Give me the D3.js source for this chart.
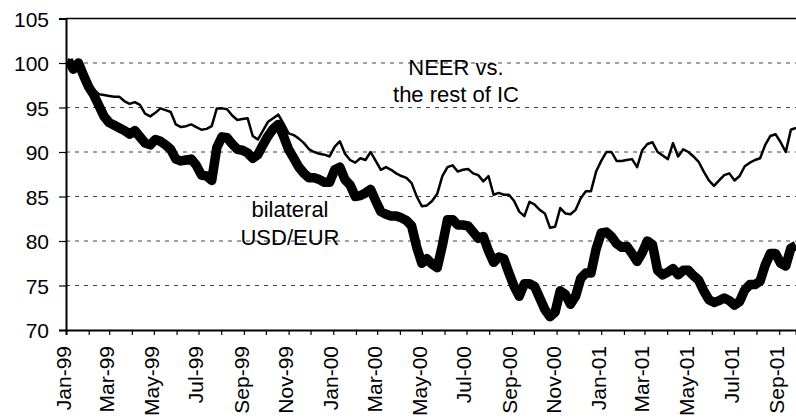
<!DOCTYPE html>
<html>
<head>
	<meta charset="utf-8">
	<script src="https://cdn.jsdelivr.net/npm/d3@7"></script>
	<style>
		body { margin: 0; background: #fff; }
		text { font-family: "Liberation Sans", Arial, sans-serif; fill: #000; }
	</style>
</head>
<body>
	<div id="chart"></div>

	<script>
		// weekly readings, first week starting Mon 4 Jan 1999
		var firstWeek = "1999-01-04";

		// nominal effective rate vs the rest of industrial countries (thin line)
		var neer = [
			100.5, 99.6, 99.8, 98.2, 97.4, 97.0, 96.5, 96.4, 96.3, 96.2,
			96.2, 95.7, 95.4, 95.6, 95.3, 94.3, 94.0, 94.4, 94.9, 94.7,
			94.5, 93.1, 92.8, 92.9, 93.1, 92.8, 92.5, 92.6, 92.9, 94.9,
			94.9, 94.8, 94.1, 93.6, 93.7, 93.8, 91.8, 91.4, 92.4, 93.4,
			93.8, 94.2, 93.2, 92.1, 91.9, 91.5, 91.0, 90.3, 90.0, 89.8,
			89.7, 89.5, 90.6, 91.2, 89.8, 89.1, 88.8, 89.3, 89.1, 90.0,
			89.0, 88.0, 88.3, 88.0, 87.6, 87.3, 87.1, 86.5, 85.0, 83.9,
			84.0, 84.5, 85.3, 87.3, 88.3, 88.5, 87.8, 88.0, 88.1, 87.6,
			87.4, 86.7, 87.3, 85.2, 85.4, 85.2, 85.2, 84.5, 83.3, 82.8,
			84.4, 84.1, 83.5, 83.1, 81.5, 81.6, 83.7, 83.1, 83.0, 83.5,
			84.8, 85.6, 85.6, 87.8, 89.0, 90.0, 90.0, 89.0, 89.0, 89.1,
			89.2, 88.3, 90.2, 90.9, 91.1, 90.0, 89.6, 89.2, 91.0, 89.5,
			90.3, 90.0, 89.5, 88.9, 87.8, 86.8, 86.2, 86.8, 87.4, 87.6,
			86.8, 87.3, 88.4, 88.8, 89.1, 89.3, 90.8, 91.8, 92.0, 91.1,
			90.0, 92.5, 92.7
		];

		// bilateral USD/EUR (thick line)
		var usdEur = [
			100.3, 99.3, 100.0, 98.6, 97.3, 96.4, 95.2, 94.0, 93.3, 93.0,
			92.7, 92.4, 92.0, 92.4, 91.7, 91.0, 90.8, 91.4, 91.2, 90.8,
			90.3, 89.2, 89.0, 89.1, 89.2, 88.5, 87.4, 87.3, 86.8, 90.5,
			91.7, 91.6, 90.9, 90.3, 90.2, 89.9, 89.3, 89.7, 90.8, 91.8,
			92.6, 93.1, 91.8, 90.3, 89.3, 88.3, 87.6, 87.1, 87.1, 86.9,
			86.6, 86.6, 88.0, 88.3, 86.9, 86.3, 85.0, 85.1, 85.4, 85.8,
			84.5, 83.3, 83.0, 82.8, 82.8, 82.6, 82.3, 81.7, 79.3, 77.5,
			78.0, 77.4, 77.0, 79.5, 82.4, 82.4, 81.8, 81.8, 81.7, 81.0,
			80.3, 80.5, 78.9, 77.6, 78.2, 78.0, 76.4, 74.9, 73.8, 75.2,
			75.2, 74.9, 73.6, 72.3, 71.5, 72.0, 74.4, 74.0, 72.9, 73.8,
			75.8, 76.4, 76.4, 79.1, 80.9, 81.0, 80.5, 79.7, 79.3, 79.4,
			78.6, 77.7, 78.7, 80.0, 79.6, 76.7, 76.2, 76.5, 76.9, 76.2,
			76.7, 76.7, 76.1, 75.6, 74.4, 73.4, 73.1, 73.3, 73.6, 73.3,
			72.8, 73.2, 74.5, 75.1, 75.1, 75.5, 77.3, 78.6, 78.6, 77.5,
			77.2, 79.2, 79.5
		];

		var yTicks = [70, 75, 80, 85, 90, 95, 100, 105];
		var gridValues = [75, 80, 85, 90, 95, 100];
		var xDomain = ["1999-01-01", "2001-09-24"];

		var width = 796, height = 418;
		var margin = {top: 18.5, right: 0, bottom: 88, left: 66};

		var parseDate = d3.timeParse("%Y-%m-%d");
		var start = parseDate(firstWeek);

		var x = d3.scaleTime()
			.domain(xDomain.map(parseDate))
			.range([margin.left, width - margin.right]);

		var y = d3.scaleLinear()
			.domain([70, 105])
			.range([height - margin.bottom, margin.top]);

		var svg = d3.select("#chart").append("svg")
			.attr("width", width)
			.attr("height", height);

		svg.append("clipPath")
			.attr("id", "plotclip")
			.append("rect")
			.attr("x", margin.left)
			.attr("y", 0)
			.attr("width", width - margin.left)
			.attr("height", height - margin.bottom);

		// dashed gridlines
		svg.append("g")
			.selectAll("line")
			.data(gridValues)
			.enter().append("line")
			.attr("x1", margin.left)
			.attr("x2", width)
			.attr("y1", function(d) { return y(d); })
			.attr("y2", function(d) { return y(d); })
			.attr("stroke", "#444")
			.attr("stroke-width", 1.2)
			.attr("stroke-dasharray", "4,5");

		// top border
		svg.append("line")
			.attr("x1", margin.left)
			.attr("x2", width)
			.attr("y1", y(105))
			.attr("y2", y(105))
			.attr("stroke", "#000")
			.attr("stroke-width", 1.5);

		// y axis
		var yAxis = svg.append("g")
			.attr("transform", "translate(" + margin.left + ",0)")
			.call(d3.axisLeft(y).tickValues(yTicks).tickSize(7).tickPadding(10));
		yAxis.select(".domain").attr("stroke-width", 2);
		yAxis.selectAll("line").attr("stroke-width", 1.2);
		yAxis.selectAll("text")
			.style("font-size", "21px")
			.attr("dy", "0.36em");

		// x axis: monthly ticks, labels every other month
		var months = d3.timeMonth.range(parseDate("1999-01-01"), parseDate("2001-09-24"));
		var xAxis = svg.append("g")
			.attr("transform", "translate(0," + y(70) + ")")
			.call(d3.axisBottom(x)
				.tickValues(months)
				.tickSize(5)
				.tickFormat(function(d, i) { return i % 2 === 0 ? d3.timeFormat("%b-%y")(d) : ""; }));
		xAxis.select(".domain").attr("stroke-width", 2);
		xAxis.selectAll("line").attr("stroke-width", 1.2);
		xAxis.selectAll("text")
			.style("font-size", "21px")
			.attr("text-anchor", "end")
			.attr("transform", "rotate(-90)")
			.attr("x", -16)
			.attr("y", -3)
			.attr("dy", "0.35em");

		var line = d3.line()
			.x(function(d, i) { return x(d3.timeWeek.offset(start, i)); })
			.y(function(d) { return y(d); });

		var plot = svg.append("g").attr("clip-path", "url(#plotclip)");

		plot.append("path")
			.datum(usdEur)
			.attr("fill", "none")
			.attr("stroke", "#000")
			.attr("stroke-width", 9.5)
			.attr("stroke-linejoin", "round")
			.attr("d", line);

		plot.append("path")
			.datum(neer)
			.attr("fill", "none")
			.attr("stroke", "#000")
			.attr("stroke-width", 2.5)
			.attr("stroke-linejoin", "round")
			.attr("d", line);

		// series labels
		var labels = svg.append("g").style("font-size", "22px").attr("text-anchor", "middle");
		labels.append("text").attr("x", 456).attr("y", 75).text("NEER vs.");
		labels.append("text").attr("x", 456).attr("y", 102).text("the rest of IC");
		labels.append("text").attr("x", 290).attr("y", 217).text("bilateral");
		labels.append("text").attr("x", 290).attr("y", 245).text("USD/EUR");
	</script>
</body>
</html>
